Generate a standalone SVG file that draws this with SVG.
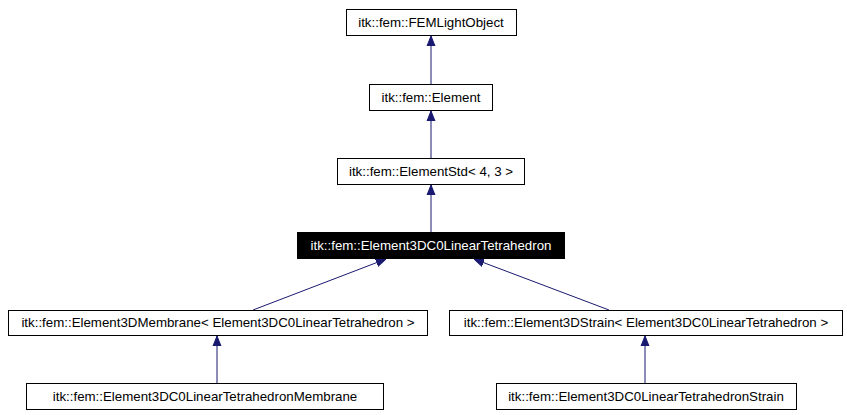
<svg xmlns="http://www.w3.org/2000/svg" width="847" height="415" viewBox="0 0 847 415">
<style>
.n rect{fill:#fff;stroke:#000;stroke-width:1}
.n text{font-family:"Liberation Sans",Arial,sans-serif;font-size:13.3px;text-anchor:middle;fill:#000}
#n4 rect{fill:#000}
#n4 text{fill:#fff}
.e line{stroke:#191970;stroke-width:1}
</style>
<defs>
<marker id="a" viewBox="0 0 10 10" refX="10" refY="5" markerWidth="10" markerHeight="10" markerUnits="userSpaceOnUse" orient="auto">
<path d="M0,1 L10,5 L0,9 Z" fill="#191970" stroke="#191970"/>
</marker>
</defs>
<rect width="847" height="415" fill="#fff"/>
<g class="e">
<line x1="431" y1="84" x2="431" y2="36" marker-end="url(#a)"/>
<line x1="431" y1="158" x2="431" y2="111" marker-end="url(#a)"/>
<line x1="431" y1="232" x2="431" y2="185" marker-end="url(#a)"/>
<line x1="253" y1="310" x2="386" y2="259" marker-end="url(#a)"/>
<line x1="609" y1="310" x2="474" y2="259" marker-end="url(#a)"/>
<line x1="217" y1="383" x2="217" y2="336" marker-end="url(#a)"/>
<line x1="645" y1="383" x2="645" y2="336" marker-end="url(#a)"/>
</g>
<g class="n" id="n1"><rect x="346.5" y="9.5" width="170" height="26"/><text x="431" y="27">itk::fem::FEMLightObject</text></g>
<g class="n" id="n2"><rect x="369.5" y="84.5" width="123" height="26"/><text x="431" y="102">itk::fem::Element</text></g>
<g class="n" id="n3"><rect x="337.5" y="158.5" width="187" height="26"/><text x="431" y="176">itk::fem::ElementStd&lt; 4, 3 &gt;</text></g>
<g class="n" id="n4"><rect x="297.5" y="232.5" width="267" height="26"/><text x="431" y="250">itk::fem::Element3DC0LinearTetrahedron</text></g>
<g class="n" id="n5"><rect x="8.5" y="310.5" width="419" height="25"/><text x="218" y="327">itk::fem::Element3DMembrane&lt; Element3DC0LinearTetrahedron &gt;</text></g>
<g class="n" id="n6"><rect x="449.5" y="310.5" width="393" height="25"/><text x="646" y="327">itk::fem::Element3DStrain&lt; Element3DC0LinearTetrahedron &gt;</text></g>
<g class="n" id="n7"><rect x="26.5" y="383.5" width="357" height="26"/><text x="205" y="401">itk::fem::Element3DC0LinearTetrahedronMembrane</text></g>
<g class="n" id="n8"><rect x="496.5" y="383.5" width="300" height="26"/><text x="646" y="401">itk::fem::Element3DC0LinearTetrahedronStrain</text></g>
</svg>
